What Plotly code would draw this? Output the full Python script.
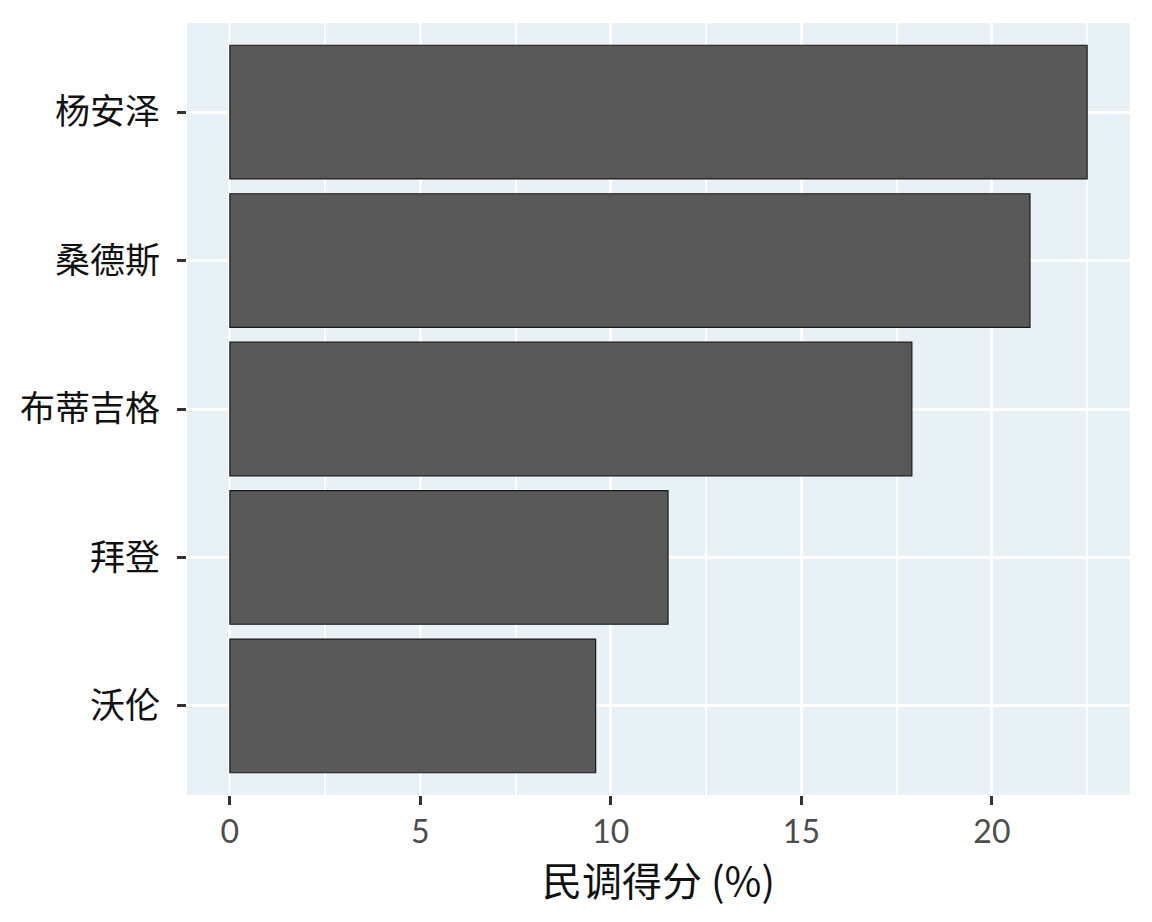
import plotly.graph_objects as go

# poll data, bottom to top
candidates = ["沃伦", "拜登", "布蒂吉格", "桑德斯", "杨安泽"]
poll_scores = [9.6, 11.5, 17.9, 21.0, 22.5]

x_ticks = [0, 5, 10, 15, 20]
x_title = "民调得分 (%)"

fig = go.Figure()
fig.add_trace(go.Bar(
    x=poll_scores,
    y=candidates,
    orientation="h",
    width=0.9,
    marker=dict(color="#595959", line=dict(color="#1a1a1a", width=1.2)),
    hoverinfo="x+y",
))

xmax = max(poll_scores)
pad = xmax * 0.05

# page body has an 8px margin, so the figure is a bit smaller than the window
fig.update_layout(
    width=1144,
    height=914,
    margin=dict(l=177, r=22, t=15, b=127),
    paper_bgcolor="white",
    plot_bgcolor="#e8f1f6",
    showlegend=False,
    font=dict(family="Noto Sans CJK SC, Lato, sans-serif", color="#1a1a1a"),
    xaxis=dict(
        range=[-pad, xmax + pad],
        tickvals=x_ticks,
        ticks="outside",
        ticklen=9,
        tickwidth=2.5,
        tickcolor="#333333",
        tickfont=dict(family="Lato, sans-serif", size=32, color="#4d4d4d"),
        showgrid=True,
        gridcolor="white",
        gridwidth=3,
        zeroline=False,
        showline=False,
        minor=dict(dtick=2.5, tick0=0, showgrid=True, gridcolor="white", gridwidth=1.5),
        title=dict(text=x_title, font=dict(family="Noto Sans CJK SC, sans-serif", size=40, color="#111111"), standoff=8),
    ),
    yaxis=dict(
        type="category",
        categoryorder="array",
        categoryarray=candidates,
        range=[-0.6, len(candidates) - 0.4],
        ticks="outside",
        ticklen=9,
        tickwidth=2.5,
        tickcolor="#333333",
        ticklabelstandoff=10,
        tickfont=dict(family="Noto Sans CJK SC, sans-serif", size=35, color="#111111"),
        showgrid=True,
        gridcolor="white",
        gridwidth=3,
        zeroline=False,
        showline=False,
    ),
)

fig.write_html("out.html")
